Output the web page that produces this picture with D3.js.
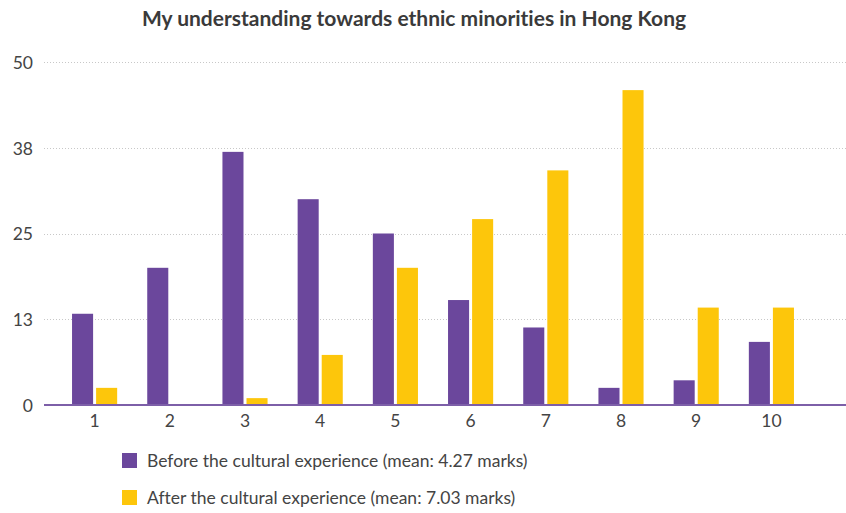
<!DOCTYPE html>
<html>
<head>
<meta charset="utf-8">
<script src="https://cdn.jsdelivr.net/npm/d3@7"></script>
<style>
  body { margin: 0; background: #fff; }
  svg text { font-family: "Lato", "Open Sans", sans-serif; font-variant-ligatures: none; }
</style>
</head>
<body>
<div id="chart"></div>
<script>
var categories = ["1", "2", "3", "4", "5", "6", "7", "8", "9", "10"];
var seriesNames = ["Before the cultural experience (mean: 4.27 marks)",
                   "After the cultural experience (mean: 7.03 marks)"];
var before = [13.3, 20, 36.9, 30, 25, 15.3, 11.3, 2.5, 3.6, 9.2];
var after = [2.5, 0, 1, 7.3, 20, 27.1, 34.2, 45.9, 14.2, 14.2];
var yTicks = [0, 12.5, 25, 37.5, 50];
var yTickLabels = ["0", "13", "25", "38", "50"];
var colors = ["#6b479c", "#fdc60b"];

var width = 846, height = 513;

var svg = d3.select("#chart").append("svg")
    .attr("width", width)
    .attr("height", height);

svg.append("text")
    .text("My understanding towards ethnic minorities in Hong Kong")
    .attr("x", 414)
    .attr("y", 26)
    .attr("text-anchor", "middle")
    .attr("font-size", "21px")
    .attr("font-weight", "bold")
    .attr("fill", "#3a3a3a");

var y = d3.scaleLinear()
    .domain([0, 50])
    .range([405, 62]);

var x0 = d3.scaleBand()
    .domain(categories)
    .range([57, 809])
    .paddingInner(0.4)
    .paddingOuter(0.2);

var x1 = d3.scaleBand()
    .domain([0, 1])
    .range([0, x0.bandwidth()])
    .paddingInner(0.125);

// grid
svg.append("g")
    .selectAll("line")
    .data(yTicks.slice(1))
    .enter().append("line")
    .attr("x1", 44)
    .attr("x2", width)
    .attr("y1", function(d) { return Math.round(y(d)) + 0.5; })
    .attr("y2", function(d) { return Math.round(y(d)) + 0.5; })
    .attr("stroke", "#c8c8c8")
    .attr("stroke-dasharray", "1,2");

// y labels
var yAxis = svg.append("g")
    .attr("transform", "translate(33,0)")
    .call(d3.axisLeft(y).tickValues(yTicks)
        .tickFormat(function(d, i) { return yTickLabels[i]; })
        .tickSize(0));
yAxis.select(".domain").remove();
yAxis.selectAll("text")
    .attr("font-family", "Lato, 'Open Sans', sans-serif")
    .attr("font-size", "17.5px")
    .attr("fill", "#444")
    .attr("x", 0)
    .attr("dy", "0.36em");

// bars
var data = categories.map(function(c, i) { return { cat: c, vals: [before[i], after[i]] }; });

var group = svg.selectAll(".grp")
    .data(data)
    .enter().append("g")
    .attr("class", "grp")
    .attr("transform", function(d) { return "translate(" + x0(d.cat) + ",0)"; });

group.selectAll("rect")
    .data(function(d) { return d.vals.map(function(v, j) { return { s: j, v: v }; }); })
    .enter().append("rect")
    .attr("x", function(d) { return x1(d.s); })
    .attr("width", x1.bandwidth())
    .attr("y", function(d) { return y(d.v); })
    .attr("height", function(d) { return y(0) - y(d.v); })
    .attr("fill", function(d) { return colors[d.s]; });

// x axis
svg.append("line")
    .attr("x1", 44)
    .attr("x2", width)
    .attr("y1", 405)
    .attr("y2", 405)
    .attr("stroke", "#7d5fa8")
    .attr("stroke-width", 2);

var xAxis = svg.append("g")
    .attr("transform", "translate(0,406)")
    .call(d3.axisBottom(x0).tickSize(0));
xAxis.select(".domain").remove();
xAxis.selectAll("text")
    .attr("font-family", "Lato, 'Open Sans', sans-serif")
    .attr("font-size", "17.5px")
    .attr("fill", "#444")
    .attr("y", 21)
    .attr("dy", 0);

// legend
var legend = svg.selectAll(".legend")
    .data(seriesNames)
    .enter().append("g")
    .attr("class", "legend")
    .attr("transform", function(d, i) { return "translate(122," + (453 + i * 37) + ")"; });

legend.append("rect")
    .attr("width", 15)
    .attr("height", 15)
    .attr("fill", function(d, i) { return colors[i]; });

legend.append("text")
    .text(function(d) { return d; })
    .attr("x", 25)
    .attr("y", 14)
    .attr("font-size", "17.5px")
    .attr("fill", "#444");
</script>
</body>
</html>
